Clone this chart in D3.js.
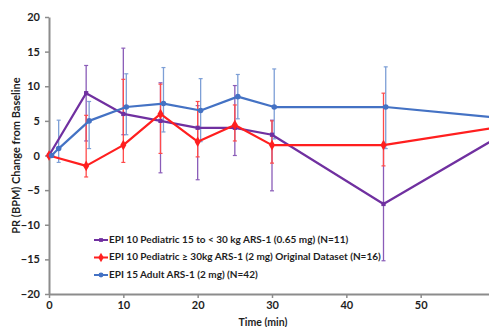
<!DOCTYPE html>
<html>
<head>
<meta charset="utf-8">
<script src="https://cdn.jsdelivr.net/npm/d3@7"></script>
<style>
  body { margin: 0; background: #fff; }
  svg { display: block; }
  text { font-family: Lato, "Open Sans", sans-serif; font-weight: 700; fill: #1e1e1e; }
</style>
</head>
<body>
<svg id="chart" width="489" height="327"></svg>
<script>
// Time points (min)
const timePeds = [0, 5, 10, 15, 20, 25, 30, 45, 60];
const timeAdult = [0.35, 1.3, 5.4, 10.4, 15.4, 20.4, 25.4, 30.3, 45.3, 60];

// EPI 10 Pediatric 15 to < 30 kg (0.65 mg)
const pedsLowMean = [0, 9, 6, 5, 4, 4, 3, -7, 2.4];
const pedsLowHi   = [null, 13, 15.5, 10.5, 7.2, 10.1, 5.1, 1.5, null];
const pedsLowLo   = [null, 2.1, 3.0, -2.5, -3.5, 0, -5.1, -15.2, null];

// EPI 10 Pediatric >= 30 kg (2 mg)
const pedsHighMean = [0, -1.5, 1.5, 6, 2, 4.4, 1.5, 1.5, 4.0];
const pedsHighHi   = [null, 5.8, 11.0, 10.3, 7.8, 7.3, 5.0, 9.0, null];
const pedsHighLo   = [null, -3.1, -1.0, 0.3, -0.2, 2.1, -1.1, -1.5, null];

// EPI 15 Adult (2 mg)
const adultMean = [0, 1, 5, 7, 7.5, 6.5, 8.5, 7, 7, 5.5];
const adultHi   = [null, 5.1, 7.8, 11.8, 12.7, 11.1, 11.7, 12.5, 12.8, null];
const adultLo   = [null, -1.0, 1.0, 3.0, 3.4, 2.0, 5.3, 2.4, 1.0, null];

const seriesNames = [
  "EPI 10 Pediatric 15 to < 30 kg ARS-1 (0.65 mg) (N=11)",
  "EPI 10 Pediatric \u2265 30kg ARS-1 (2 mg) Original Dataset (N=16)",
  "EPI 15 Adult ARS-1 (2 mg) (N=42)"
];

const yTicks = [-20, -15, -10, -5, 0, 5, 10, 15, 20];
const xTicks = [0, 10, 20, 30, 40, 50];

const series = [
  { name: seriesNames[0], time: timePeds, mean: pedsLowMean, hi: pedsLowHi, lo: pedsLowLo,
    color: "#7030a0", barColor: "#8a5cb8", symbol: d3.symbolSquare, size: 18 },
  { name: seriesNames[1], time: timePeds, mean: pedsHighMean, hi: pedsHighHi, lo: pedsHighLo,
    color: "#ff1f1f", barColor: "#ff4a4a", symbol: d3.symbolDiamond, size: 32 },
  { name: seriesNames[2], time: timeAdult, mean: adultMean, hi: adultHi, lo: adultLo,
    color: "#4472c4", barColor: "#7d9fd6", symbol: d3.symbolCircle, size: 24 }
];

const svg = d3.select("#chart");
const x = d3.scaleLinear().domain([0, 60]).range([49, 495]);
const y = d3.scaleLinear().domain([-20, 20]).range([294, 17]);

// Axes
const axisColor = "#8c8c8c";
const gy = svg.append("g").attr("transform", `translate(${x(0)},0)`)
  .call(d3.axisLeft(y).tickValues(yTicks).tickSize(4).tickSizeOuter(0).tickPadding(5));
const gx = svg.append("g").attr("transform", `translate(0,${y(-20)})`)
  .call(d3.axisBottom(x).tickValues(xTicks).tickSize(4).tickSizeOuter(0).tickPadding(3));
[gx, gy].forEach(g => {
  g.select(".domain").attr("stroke", axisColor).attr("stroke-width", 2);
  g.selectAll(".tick line").attr("stroke", axisColor).attr("stroke-width", 1.5);
  g.selectAll(".tick text").style("font-size", "11px").attr("fill", "#1e1e1e");
});

// Axis titles
svg.append("text")
  .attr("transform", `translate(17,${(y(20) + y(-20)) / 2}) rotate(-90)`)
  .attr("text-anchor", "middle").attr("dominant-baseline", "middle")
  .style("font-size", "11px").text("PR (BPM) Change from Baseline");
svg.append("text")
  .attr("x", 263).attr("y", 325.5).attr("text-anchor", "middle")
  .style("font-size", "10.5px").text("Time (min)");

// Error bars
series.forEach(s => {
  const g = svg.append("g");
  s.mean.forEach((m, i) => {
    if (s.hi[i] == null) return;
    const cx = x(s.time[i]);
    g.append("line").attr("x1", cx).attr("x2", cx).attr("y1", y(s.hi[i])).attr("y2", y(s.lo[i]))
      .attr("stroke", s.barColor).attr("stroke-width", 1.3);
    [s.hi[i], s.lo[i]].forEach(v => {
      g.append("line").attr("x1", cx - 2).attr("x2", cx + 2).attr("y1", y(v)).attr("y2", y(v))
        .attr("stroke", s.barColor).attr("stroke-width", 1.2);
    });
  });
});

// Lines and markers
const line = d3.line().x(d => x(d[0])).y(d => y(d[1]));
series.forEach(s => {
  const pts = s.time.map((t, i) => [t, s.mean[i]]);
  svg.append("path").datum(pts).attr("d", line)
    .attr("fill", "none").attr("stroke", s.color).attr("stroke-width", 2.2)
    .attr("stroke-linejoin", "round");
  svg.append("g").selectAll("path").data(pts).join("path")
    .attr("transform", d => `translate(${x(d[0])},${y(d[1])})`)
    .attr("d", d3.symbol(s.symbol, s.size)).attr("fill", s.color);
});

// Legend
const legend = svg.append("g");
const legendRows = [240, 257.5, 275];
series.forEach((s, i) => {
  const ly = legendRows[i];
  legend.append("line").attr("x1", 94).attr("x2", 108).attr("y1", ly).attr("y2", ly)
    .attr("stroke", s.color).attr("stroke-width", 2);
  legend.append("path").attr("transform", `translate(101,${ly})`)
    .attr("d", d3.symbol(s.symbol, s.size * 0.8)).attr("fill", s.color);
  legend.append("text").attr("x", 109).attr("y", ly).attr("dominant-baseline", "middle")
    .style("font-size", "10px").text(s.name);
});
</script>
</body>
</html>
